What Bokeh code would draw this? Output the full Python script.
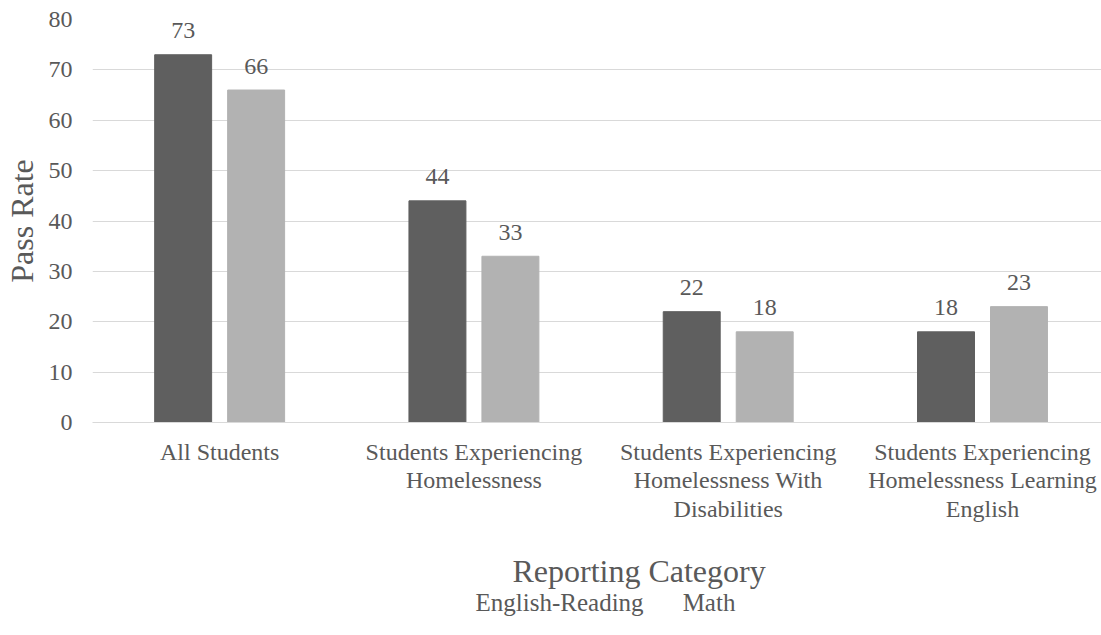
from bokeh.plotting import figure
from bokeh.models import Range1d, FixedTicker, ColumnDataSource, Legend, LegendItem
from bokeh.layouts import column
from bokeh.transform import dodge
from bokeh.core.properties import value
from bokeh.embed import file_html
from bokeh.resources import INLINE
import numpy as np

categories = ["All Students",
              "Students Experiencing\nHomelessness",
              "Students Experiencing\nHomelessness With\nDisabilities",
              "Students Experiencing\nHomelessness Learning\nEnglish"]
english_reading = [73, 44, 22, 18]
math = [66, 33, 18, 23]
series_names = ["English-Reading", "Math"]
y_ticks = [0, 10, 20, 30, 40, 50, 60, 70, 80]
x_title = "Reporting Category"
y_title = "Pass Rate"

FONT = "Liberation Serif"
TXT = "#595959"
DARK = "#5f5f5f"
LIGHT = "#b2b2b2"
GRID = "#d9d9d9"

idx = np.arange(len(categories))
src = ColumnDataSource(dict(x=idx, eng=english_reading, math=math,
                            eng_lbl=[str(v) for v in english_reading],
                            math_lbl=[str(v) for v in math]))

p = figure(frame_width=1009, frame_height=403, output_backend="svg", toolbar_location=None,
           x_range=Range1d(-0.5, 3.468), y_range=Range1d(0, 80),
           min_border_left=0, min_border_right=1, min_border_top=19, min_border_bottom=0)
p.outline_line_color = None
p.background_fill_color = "white"
p.border_fill_color = "white"

off = 0.1435
w = 0.224
r1 = p.vbar(x=dodge("x", -off), top="eng", width=w, source=src,
            fill_color=DARK, line_color=DARK)
r2 = p.vbar(x=dodge("x", off), top="math", width=w, source=src,
            fill_color=LIGHT, line_color=LIGHT)

for col, lbl, o in [("eng", "eng_lbl", -off), ("math", "math_lbl", off)]:
    p.text(x=dodge("x", o), y=col, text=lbl, source=src, text_align="center",
           text_baseline="alphabetic", y_offset=-24, text_font=value(FONT),
           text_font_size="24px", text_color=TXT)

p.xaxis.ticker = FixedTicker(ticks=list(idx))
p.xaxis.major_label_overrides = {int(i): c for i, c in zip(idx, categories)}
p.xaxis.major_tick_line_color = None
p.xaxis.minor_tick_line_color = None
p.xaxis.axis_line_color = GRID
p.xaxis.major_label_text_font = FONT
p.xaxis.major_label_text_font_size = "24px"
p.xaxis.major_label_text_line_height = 1.1
p.xaxis.major_label_text_color = TXT
p.xaxis.major_label_standoff = 10

p.yaxis.ticker = FixedTicker(ticks=y_ticks)
p.yaxis.major_tick_line_color = None
p.yaxis.minor_tick_line_color = None
p.yaxis.axis_line_color = None
p.yaxis.major_label_text_font = FONT
p.yaxis.major_label_text_font_size = "24px"
p.yaxis.major_label_text_color = TXT
p.yaxis.major_label_standoff = 14
p.yaxis.axis_label = y_title
p.yaxis.axis_label_text_font = FONT
p.yaxis.axis_label_text_font_size = "32px"
p.yaxis.axis_label_text_font_style = "normal"
p.yaxis.axis_label_text_color = TXT
p.yaxis.axis_label_standoff = 6

p.xgrid.grid_line_color = None
p.ygrid.grid_line_color = GRID
p.ygrid.grid_line_width = 1

# lower strip: x-axis title and legend
SUB_H = 108
sub = figure(width=1101, height=SUB_H, output_backend="svg", toolbar_location=None,
             x_range=Range1d(0, 1101), y_range=Range1d(0, SUB_H),
             min_border_left=0, min_border_right=0, min_border_top=0, min_border_bottom=0)
sub.axis.visible = False
sub.grid.visible = False
sub.outline_line_color = None
sub.background_fill_color = "white"
sub.border_fill_color = "white"

sub.text(x=[597], y=[62], text=[x_title], text_align="center", text_baseline="middle",
         text_font=value(FONT), text_font_size="32px", text_color=TXT)

k1 = sub.vbar(x=[], top=[], width=1, fill_color=DARK, line_color=DARK)
k2 = sub.vbar(x=[], top=[], width=1, fill_color=LIGHT, line_color=LIGHT)

legend = Legend(items=[LegendItem(label=series_names[0], renderers=[k1]),
                       LegendItem(label=series_names[1], renderers=[k2])],
                orientation="horizontal", location="bottom_center",
                label_text_font=FONT, label_text_font_size="25px",
                label_text_color=TXT, glyph_width=14, glyph_height=14,
                label_standoff=5, spacing=20, padding=0, margin=15,
                border_line_color=None, background_fill_alpha=0)
sub.add_layout(legend, "center")

layout = column(p, sub, spacing=0)
open("out.html", "w").write(file_html(layout, INLINE))
